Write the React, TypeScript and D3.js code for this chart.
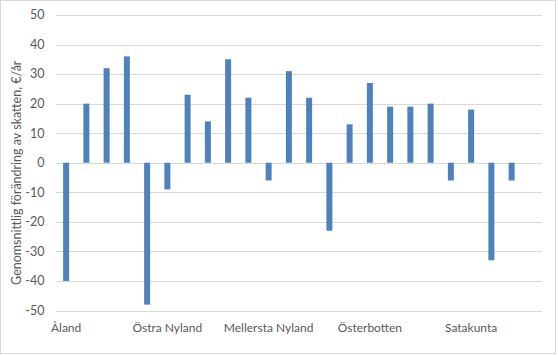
import React from "react";
import * as d3 from "d3";

const categories: string[] = [
  "Åland", "", "", "", "", "Östra Nyland", "", "", "", "", "Mellersta Nyland", "", "", "", "",
  "Österbotten", "", "", "", "", "Satakunta", "", "", "",
];
const values: (number | null)[] = [
  -40, 20, 32, 36, -48, -9, 23, 14, 35, 22, -6, 31, 22, -23, 13, 27, 19, 19, 20, -6, 18, -33, -6, null,
];
const yTicks: number[] = [-50, -40, -30, -20, -10, 0, 10, 20, 30, 40, 50];
const yTitle = "Genomsnittlig förändring av skatten, €/år";
const labelEvery = 5;

const W = 558;
const H = 356;
const plot = { left: 56, right: 542, top: 15, bottom: 310.5 };
const font = "Lato, 'Open Sans', sans-serif";

export default function App() {
  const band = d3
    .scaleBand<number>()
    .domain(categories.map((_, i) => i))
    .range([plot.left, plot.right]);
  const y = d3.scaleLinear().domain([-50, 50]).range([plot.bottom, plot.top]);

  return (
    <svg
      width={W}
      height={H}
      style={{ position: "absolute", left: 0, top: 0, background: "#fff" }}
    >
      <rect x={0.5} y={0.5} width={555} height={353} fill="#fff" stroke="#D9D9D9" />
      {yTicks.map((t) => (
        <g key={t}>
          <line
            x1={plot.left}
            x2={plot.right}
            y1={Math.round(y(t)) + 0.5}
            y2={Math.round(y(t)) + 0.5}
            stroke="#D9D9D9"
            strokeWidth={1}
          />
          <text
            x={44.5}
            y={y(t)}
            dy="0.35em"
            textAnchor="end"
            fontFamily={font}
            fontSize={12.5}
            fill="#595959"
          >
            {t}
          </text>
        </g>
      ))}
      {values.map((v, i) =>
        v === null ? null : (
          <rect
            key={i}
            x={(band(i) as number) + band.bandwidth() / 2 - 3}
            width={6}
            y={y(Math.max(0, v))}
            height={Math.abs(y(v) - y(0))}
            fill="#4F81BD"
          />
        )
      )}
      {categories.map((c, i) =>
        i % labelEvery === 0 && c ? (
          <text
            key={"c" + i}
            x={(band(i) as number) + band.bandwidth() / 2}
            y={332}
            textAnchor="middle"
            fontFamily={font}
            fontSize={12}
            fill="#595959"
          >
            {c}
          </text>
        ) : null
      )}
      <text
        transform={`translate(21,${(plot.top + plot.bottom) / 2 + 10}) rotate(-90)`}
        textAnchor="middle"
        fontFamily={font}
        fontSize={12.5}
        fill="#595959"
      >
        {yTitle}
      </text>
    </svg>
  );
}
